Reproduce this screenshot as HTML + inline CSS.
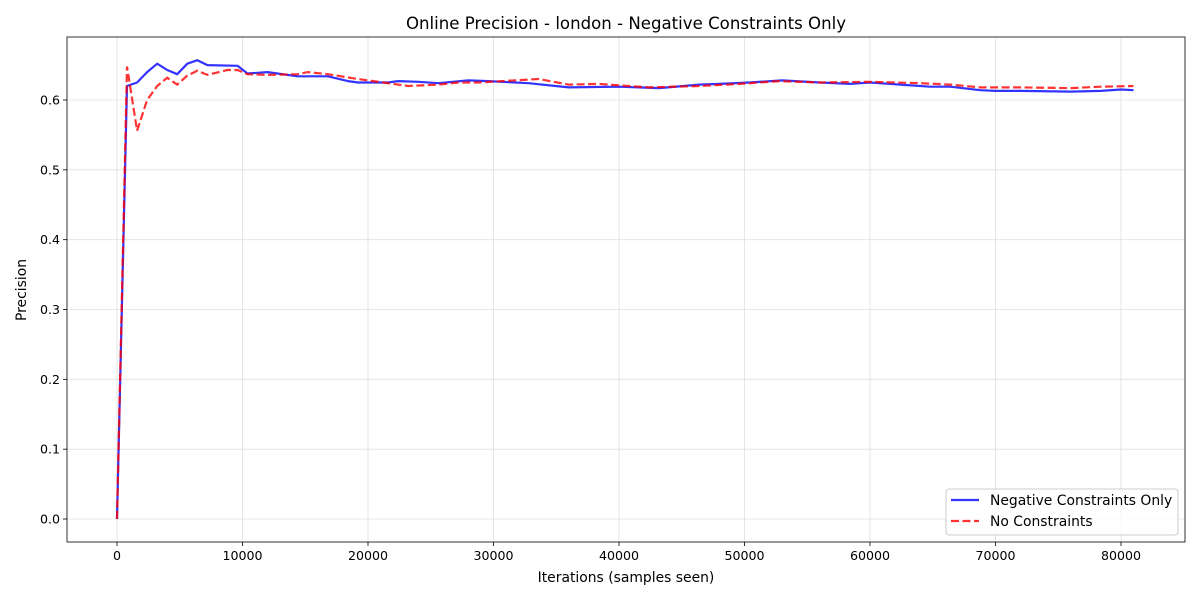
<!DOCTYPE html>
<html><head><meta charset="utf-8"><style>
body{margin:0;background:#fff;font-family:"Liberation Sans","DejaVu Sans",sans-serif}
svg text{font-family:"DejaVu Sans","Liberation Sans",sans-serif;fill:#000}
</style></head><body>
<svg id="chart" width="1200" height="600"></svg>
<script>
const xTicks=[0,10000,20000,30000,40000,50000,60000,70000,80000];
const yTicks=[0.0,0.1,0.2,0.3,0.4,0.5,0.6];
const blueX=[0,800,1600,2400,3200,4000,4800,5600,6400,7200,9600,10400,12000,14400,16800,18400,19200,21600,22400,24000,25600,28000,29600,32800,36000,40000,43200,46400,48000,50400,53000,56000,58400,60000,62400,64800,66400,68800,70000,72000,76000,78400,80000,81000];
const blueY=[0,0.62,0.625,0.64,0.652,0.643,0.637,0.652,0.657,0.65,0.649,0.638,0.64,0.634,0.634,0.627,0.625,0.625,0.627,0.626,0.624,0.628,0.627,0.624,0.618,0.619,0.617,0.622,0.623,0.625,0.628,0.625,0.623,0.625,0.622,0.619,0.619,0.614,0.613,0.613,0.612,0.613,0.615,0.614];
const redX=[0,800,1600,2400,3200,4000,4800,5600,6400,7200,8800,9600,10400,12000,14400,15200,16800,19200,21600,23200,25600,27200,28800,33600,36000,38400,42400,46400,49600,52800,56000,60000,64000,66400,68800,72000,76000,78400,81000];
const redY=[0,0.648,0.556,0.6,0.62,0.632,0.622,0.635,0.642,0.636,0.643,0.643,0.637,0.636,0.637,0.64,0.637,0.63,0.624,0.62,0.622,0.625,0.625,0.63,0.622,0.623,0.618,0.62,0.623,0.627,0.625,0.626,0.624,0.622,0.618,0.618,0.617,0.619,0.62];
const L=67,R=1185,T=37,B=542;
const sx=v=>117+v*(1121-117)/80000;
const sy=v=>519-v*(519-100)/0.6;
const svg=document.getElementById('chart');
const NS='http://www.w3.org/2000/svg';
function mk(tag,attrs,parent){const e=document.createElementNS(NS,tag);for(const k in attrs)e.setAttribute(k,attrs[k]);(parent||svg).appendChild(e);return e;}
xTicks.forEach(t=>{
const g=mk('line',{x1:sx(t),x2:sx(t),y1:T,y2:B,stroke:'#e0e0e0','stroke-width':0.8});


mk('line',{x1:sx(t),x2:sx(t),y1:B,y2:B+4,stroke:'#000','stroke-width':0.8});
const tx=mk('text',{x:sx(t),y:B+18,'font-size':12.6,'text-anchor':'middle'});tx.textContent=t;


});
yTicks.forEach(t=>{
const g=mk('line',{x1:L,x2:R,y1:sy(t),y2:sy(t),stroke:'#e0e0e0','stroke-width':0.8});


mk('line',{x1:L-4,x2:L,y1:sy(t),y2:sy(t),stroke:'#000','stroke-width':0.8});
const tx=mk('text',{x:L-7,y:sy(t)+4.5,'font-size':12.6,'text-anchor':'end'});tx.textContent=t.toFixed(1);


});
function path(xs,ys){return xs.map((x,i)=>(i?'L':'M')+sx(x).toFixed(1)+','+sy(ys[i]).toFixed(1)).join('');}
const pb=mk('path',{d:path(blueX,blueY),fill:'none',stroke:'#0000ff','stroke-opacity':0.8,'stroke-width':2.2,'stroke-linejoin':'round'});


const pr=mk('path',{d:path(redX,redY),fill:'none',stroke:'#ff0000','stroke-opacity':0.8,'stroke-width':2.2,'stroke-dasharray':'8,3.5'});


const fr=mk('rect',{x:L,y:T,width:R-L,height:B-T,fill:'none',stroke:'#000','stroke-width':0.8});


const ti=mk('text',{x:626,y:29,'font-size':16.6,'text-anchor':'middle'});ti.textContent='Online Precision - london - Negative Constraints Only';


const xl=mk('text',{x:626,y:582,'font-size':13.9,'text-anchor':'middle'});xl.textContent='Iterations (samples seen)';


const yl=mk('text',{x:26,y:290,'font-size':13.9,'text-anchor':'middle',transform:'rotate(-90 26 290)'});yl.textContent='Precision';


const lg=mk('g',{});


mk('rect',{x:946,y:489,width:232,height:46,rx:3,fill:'#fff','fill-opacity':0.8,stroke:'#ccc'},lg);
mk('line',{x1:951,x2:979,y1:500,y2:500,stroke:'#0000ff','stroke-opacity':0.8,'stroke-width':2.2},lg);
const l1=mk('text',{x:990,y:505,'font-size':13.9},lg);l1.textContent='Negative Constraints Only';


mk('line',{x1:951,x2:979,y1:521,y2:521,stroke:'#ff0000','stroke-opacity':0.8,'stroke-width':2.2,'stroke-dasharray':'8,3.5'},lg);
const l2=mk('text',{x:990,y:526,'font-size':13.9},lg);l2.textContent='No Constraints';


</script>
</body></html>
